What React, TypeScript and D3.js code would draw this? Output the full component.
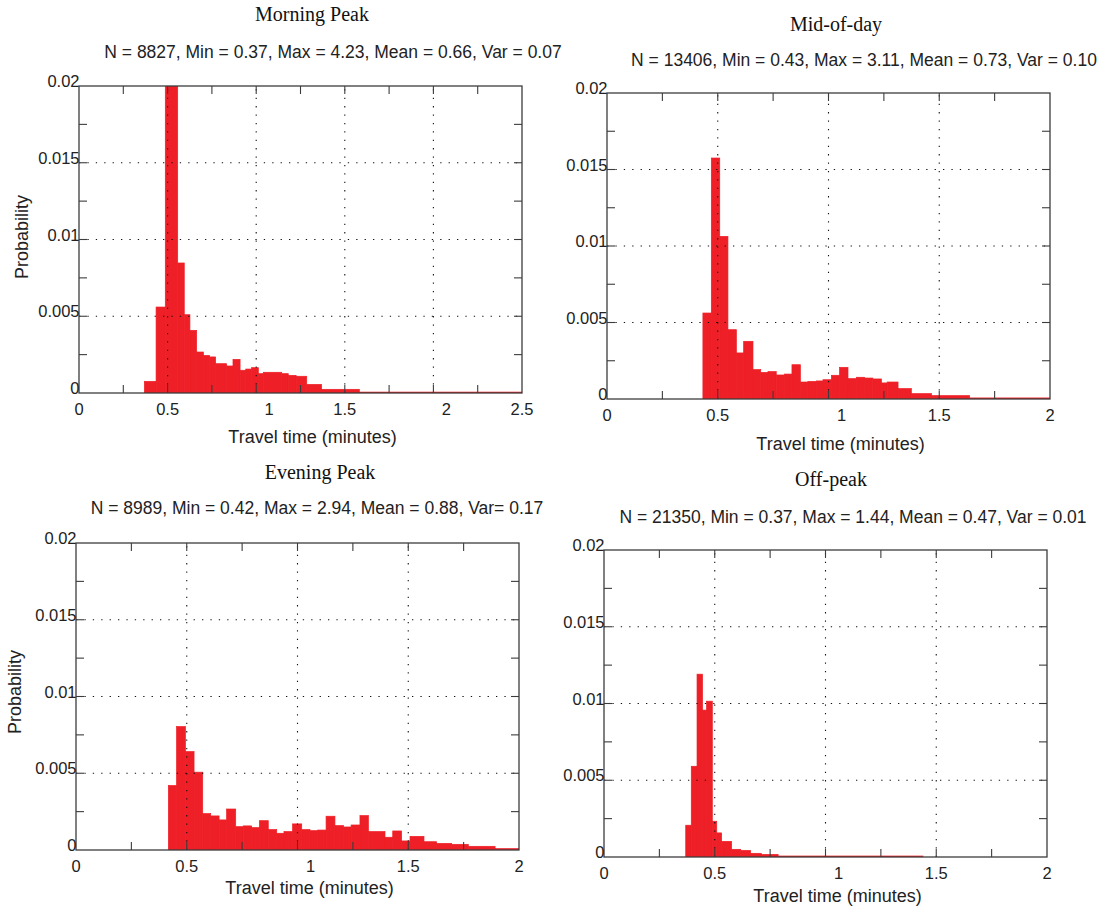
import React, { useEffect, useRef } from 'react';
import * as d3 from 'd3';

// bin edges (minutes) and probabilities
const morningEdges = [0.369, 0.435, 0.487, 0.557, 0.594, 0.626, 0.664, 0.702, 0.736, 0.771, 0.833, 0.869, 0.909, 0.941, 0.974, 1.012, 1.04, 1.144, 1.181, 1.225, 1.285, 1.369, 1.582, 2.5];
const morningProb = [0.00076, 0.0056, 0.0215, 0.00847, 0.0051, 0.00408, 0.00267, 0.00245, 0.00235, 0.00191, 0.00176, 0.00219, 0.00148, 0.00156, 0.00165, 0.00126, 0.00135, 0.00126, 0.00115, 0.00109, 0.00056, 0.00024, 0.00006];

const middayEdges = [0.433, 0.471, 0.509, 0.546, 0.584, 0.617, 0.659, 0.694, 0.727, 0.764, 0.802, 0.835, 0.873, 0.907, 0.945, 0.975, 1.013, 1.05, 1.088, 1.126, 1.163, 1.2, 1.239, 1.265, 1.314, 1.374, 1.465, 1.637, 2.0];
const middayProb = [0.00562, 0.01575, 0.01063, 0.00453, 0.00301, 0.00377, 0.00192, 0.00174, 0.00179, 0.00157, 0.00163, 0.00224, 0.00111, 0.00115, 0.00118, 0.00126, 0.00155, 0.00207, 0.00133, 0.00142, 0.00137, 0.00131, 0.00105, 0.00111, 0.00068, 0.00035, 0.00022, 0.00007];

const eveningEdges = [0.417, 0.454, 0.494, 0.533, 0.572, 0.608, 0.646, 0.68, 0.721, 0.755, 0.793, 0.828, 0.868, 0.906, 0.939, 0.978, 1.019, 1.056, 1.091, 1.129, 1.169, 1.207, 1.242, 1.282, 1.32, 1.395, 1.43, 1.47, 1.508, 1.571, 1.628, 1.696, 1.771, 1.892, 2.0];
const eveningProb = [0.0042, 0.00804, 0.00641, 0.00507, 0.00237, 0.00222, 0.00196, 0.00267, 0.00152, 0.00157, 0.00146, 0.00191, 0.00133, 0.00109, 0.0012, 0.0017, 0.00133, 0.00126, 0.0013, 0.0022, 0.00159, 0.0015, 0.00163, 0.00224, 0.0012, 0.00083, 0.00124, 0.00059, 0.00089, 0.00054, 0.00043, 0.00037, 0.00024, 0.00009];

const offpeakEdges = [0.369, 0.394, 0.42, 0.445, 0.463, 0.489, 0.509, 0.531, 0.576, 0.617, 0.662, 0.71, 0.786, 1.44];
const offpeakProb = [0.00207, 0.00591, 0.01191, 0.00957, 0.01015, 0.00233, 0.00157, 0.00102, 0.0005, 0.00043, 0.00024, 0.00017, 0.000065];

const titles = ['Morning Peak', 'Mid-of-day', 'Evening Peak', 'Off-peak'];
const statLines = [
  'N = 8827, Min = 0.37, Max = 4.23, Mean = 0.66, Var = 0.07',
  'N = 13406, Min = 0.43, Max = 3.11, Mean = 0.73, Var = 0.10',
  'N = 8989, Min = 0.42, Max = 2.94, Mean = 0.88, Var= 0.17',
  'N = 21350, Min = 0.37, Max = 1.44, Mean = 0.47, Var = 0.01',
];
const xMaxes = [2.5, 2, 2, 2];
const yMax = 0.02;

const layout = [
  { left: 79, top: 86, width: 443, height: 307, titleX: 312, titleY: 21, statsX: 333, statsY: 58, xlabelY: 443, ylabel: [22, 237] },
  { left: 607, top: 93, width: 443, height: 306, titleX: 836, titleY: 31, statsX: 864, statsY: 66, xlabelY: 450, ylabel: null },
  { left: 76, top: 543, width: 443, height: 307, titleX: 320, titleY: 479, statsX: 317, statsY: 514, xlabelY: 894, ylabel: [15, 692] },
  { left: 604, top: 550, width: 443, height: 307, titleX: 831, titleY: 486, statsX: 853, statsY: 523, xlabelY: 902, ylabel: null },
];

const SANS = '"Liberation Sans", Arial, sans-serif';
const SERIF = '"Liberation Serif", "Times New Roman", serif';
const RED = '#ee1f26';
const AXIS = '#3c3c3c';

function App() {
  const svgRef = useRef(null);

  useEffect(() => {
    const svg = d3.select(svgRef.current);
    svg.selectAll('*').remove();

    const series = [
      [morningEdges, morningProb],
      [middayEdges, middayProb],
      [eveningEdges, eveningProb],
      [offpeakEdges, offpeakProb],
    ];

    series.forEach(([edges, probs], p) => {
      const L = layout[p];
      const xMax = xMaxes[p];
      const x = d3.scaleLinear().domain([0, xMax]).range([L.left, L.left + L.width]);
      const y = d3.scaleLinear().domain([0, yMax]).range([L.top + L.height, L.top]);
      const g = svg.append('g');

      const clipId = `clip-${p}`;
      svg.append('defs').append('clipPath').attr('id', clipId)
        .append('rect')
        .attr('x', L.left).attr('y', L.top)
        .attr('width', L.width).attr('height', L.height);

      // bars (stroked in the fill colour so neighbours join without seams)
      g.append('g').attr('clip-path', `url(#${clipId})`)
        .selectAll('rect')
        .data(probs)
        .enter()
        .append('rect')
        .attr('x', (d, i) => x(edges[i]))
        .attr('width', (d, i) => Math.max(0, x(edges[i + 1]) - x(edges[i])))
        .attr('y', d => y(d))
        .attr('height', d => y(0) - y(d))
        .attr('fill', RED)
        .attr('stroke', RED)
        .attr('stroke-width', 0.7);

      const xMinor = d3.range(0, xMax + 1e-9, 0.25);
      const xMajor = d3.range(0, xMax + 1e-9, 0.5);
      const yMinor = d3.range(0, yMax + 1e-9, 0.0025);
      const yMajor = d3.range(0, yMax + 1e-9, 0.005);

      // dotted grid
      const grid = g.append('g')
        .attr('stroke', '#111')
        .attr('stroke-width', 1.1)
        .attr('stroke-dasharray', '1.3,7.1');
      xMajor.slice(1, -1).forEach(v => {
        grid.append('line')
          .attr('x1', x(v)).attr('x2', x(v))
          .attr('y1', y(0)).attr('y2', y(yMax));
      });
      yMajor.slice(1, -1).forEach(v => {
        grid.append('line')
          .attr('x1', x(0)).attr('x2', x(xMax))
          .attr('y1', y(v)).attr('y2', y(v));
      });

      // inward ticks on all four sides
      const ticks = g.append('g').attr('stroke', AXIS).attr('stroke-width', 1.1);
      const tl = 8;
      xMinor.slice(1, -1).forEach(v => {
        ticks.append('line').attr('x1', x(v)).attr('x2', x(v)).attr('y1', y(0)).attr('y2', y(0) - tl);
        ticks.append('line').attr('x1', x(v)).attr('x2', x(v)).attr('y1', y(yMax)).attr('y2', y(yMax) + tl);
      });
      yMinor.slice(1, -1).forEach(v => {
        ticks.append('line').attr('x1', x(0)).attr('x2', x(0) + tl).attr('y1', y(v)).attr('y2', y(v));
        ticks.append('line').attr('x1', x(xMax)).attr('x2', x(xMax) - tl).attr('y1', y(v)).attr('y2', y(v));
      });

      // box
      g.append('rect')
        .attr('x', L.left).attr('y', L.top)
        .attr('width', L.width).attr('height', L.height)
        .attr('fill', 'none')
        .attr('stroke', AXIS)
        .attr('stroke-width', 1.3);

      // tick labels
      g.append('g').selectAll('text')
        .data(xMajor)
        .enter()
        .append('text')
        .attr('x', d => x(d) + (d > 0 && d < xMax && d % 1 === 0 ? 13 : 0))
        .attr('y', y(0) + 22)
        .attr('text-anchor', 'middle')
        .attr('font-family', SANS)
        .attr('font-size', 16.5)
        .attr('fill', '#222')
        .text(d => String(d));

      g.append('g').selectAll('text')
        .data(yMajor)
        .enter()
        .append('text')
        .attr('x', x(0) + 0.5)
        .attr('y', d => y(d) + 1)
        .attr('text-anchor', 'end')
        .attr('font-family', SANS)
        .attr('font-size', 16.5)
        .attr('fill', '#222')
        .text(d => (d === 0 ? '0' : String(+d.toFixed(4))));

      // titles and labels
      g.append('text')
        .attr('x', L.titleX).attr('y', L.titleY)
        .attr('text-anchor', 'middle')
        .attr('font-family', SERIF)
        .attr('font-size', 20)
        .attr('fill', '#111')
        .text(titles[p]);

      g.append('text')
        .attr('x', L.statsX).attr('y', L.statsY)
        .attr('text-anchor', 'middle')
        .attr('font-family', SANS)
        .attr('font-size', 17.5)
        .attr('fill', '#222')
        .text(statLines[p]);

      g.append('text')
        .attr('x', L.left + L.width / 2 + 12).attr('y', L.xlabelY)
        .attr('text-anchor', 'middle')
        .attr('font-family', SANS)
        .attr('font-size', 18)
        .attr('fill', '#222')
        .text('Travel time (minutes)');

      if (L.ylabel) {
        g.append('text')
          .attr('transform', `translate(${L.ylabel[0]}, ${L.ylabel[1]}) rotate(-90)`)
          .attr('text-anchor', 'middle')
          .attr('dominant-baseline', 'central')
          .attr('font-family', SANS)
          .attr('font-size', 18)
          .attr('fill', '#222')
          .text('Probability');
      }
    });
  }, []);

  return (
    <div style={{ position: 'absolute', left: 0, top: 0, width: 1107, height: 912, background: '#fff' }}>
      <svg ref={svgRef} width={1107} height={912} style={{ display: 'block' }} />
    </div>
  );
}

export default App;
